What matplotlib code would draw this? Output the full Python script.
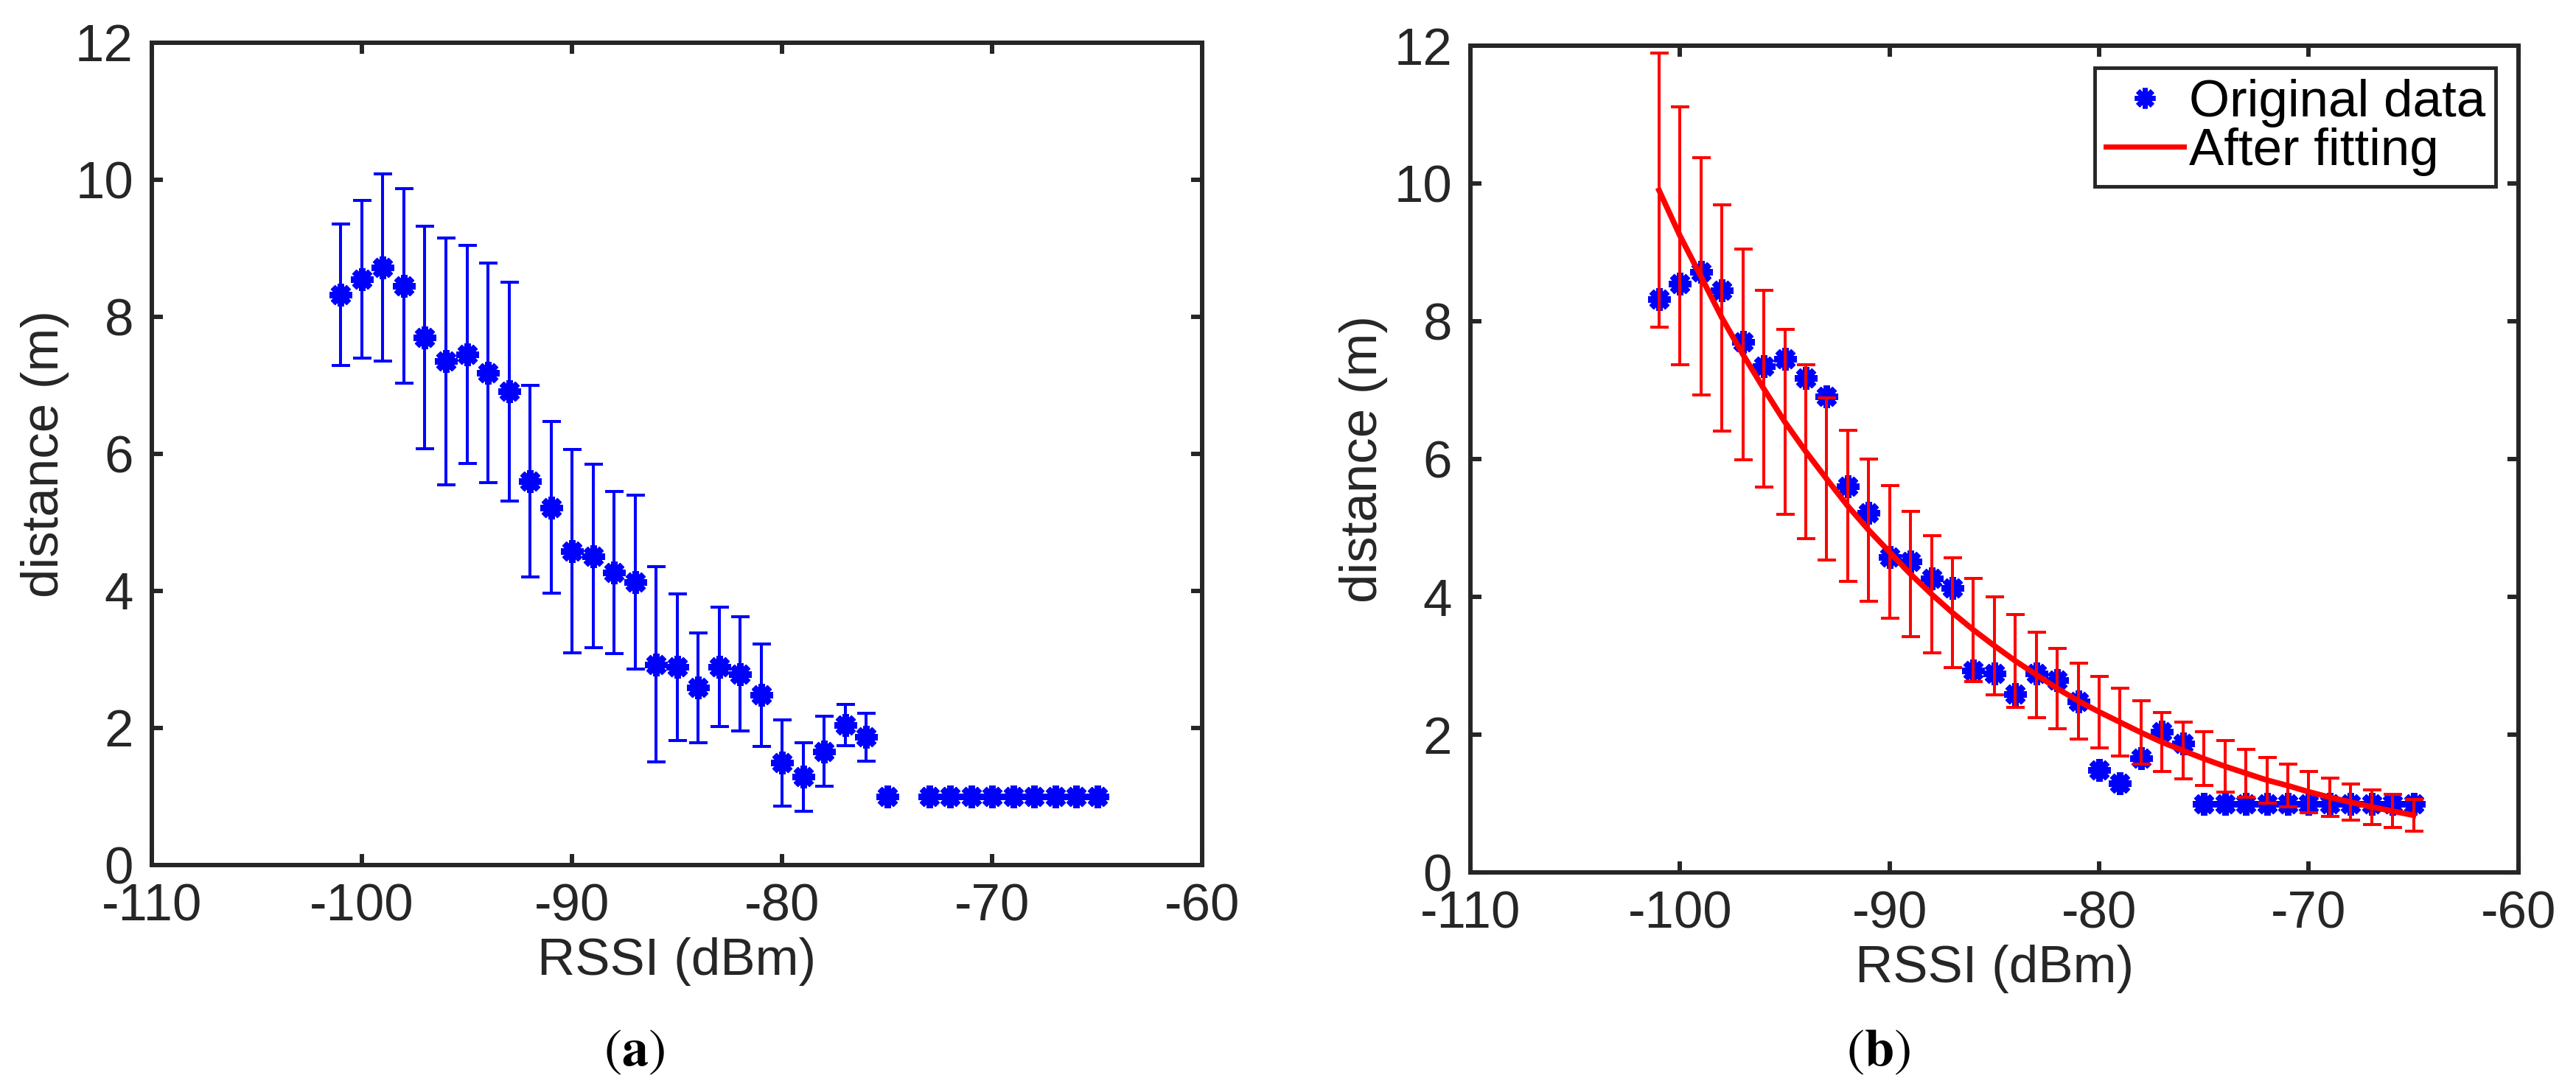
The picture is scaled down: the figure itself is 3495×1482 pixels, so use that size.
import matplotlib
matplotlib.use('Agg')
import matplotlib.pyplot as plt
from matplotlib.lines import Line2D
import numpy as np

# ---------------- data ----------------
xticks = [-110, -100, -90, -80, -70, -60]
yticks = [0, 2, 4, 6, 8, 10, 12]

# (a) measured distance vs RSSI with std error bars
rssi_a = [-101, -100, -99, -98, -97, -96, -95, -94, -93, -92, -91, -90, -89, -88,
          -87, -86, -85, -84, -83, -82, -81, -80, -79, -78, -77, -76, -75,
          -73, -72, -71, -70, -69, -68, -67, -66, -65]
dist_a = [8.32, 8.55, 8.72, 8.45, 7.70, 7.35, 7.45, 7.18, 6.91, 5.60, 5.22, 4.58, 4.51, 4.27,
          4.13, 2.93, 2.89, 2.59, 2.89, 2.79, 2.48, 1.49, 1.29, 1.66, 2.04, 1.87, 1.00,
          1.00, 1.00, 1.00, 1.00, 1.00, 1.00, 1.00, 1.00, 1.00]
err_a = [1.03, 1.15, 1.37, 1.42, 1.62, 1.80, 1.59, 1.60, 1.60, 1.40, 1.25, 1.48, 1.34, 1.18,
         1.27, 1.42, 1.07, 0.80, 0.87, 0.83, 0.75, 0.63, 0.50, 0.51, 0.30, 0.35, 0.00,
         0.00, 0.00, 0.00, 0.00, 0.00, 0.00, 0.00, 0.00, 0.00]

# (b) original data and fitted curve with error bars
rssi_b = [-101, -100, -99, -98, -97, -96, -95, -94, -93, -92, -91, -90, -89, -88,
          -87, -86, -85, -84, -83, -82, -81, -80, -79, -78, -77, -76, -75, -74,
          -73, -72, -71, -70, -69, -68, -67, -66, -65]
dist_b = [8.32, 8.55, 8.72, 8.45, 7.70, 7.35, 7.45, 7.18, 6.91, 5.60, 5.22, 4.58, 4.51, 4.27,
          4.13, 2.93, 2.89, 2.59, 2.89, 2.79, 2.48, 1.49, 1.29, 1.66, 2.04, 1.87, 1.00, 1.00,
          1.00, 1.00, 1.00, 1.00, 1.00, 1.00, 1.00, 1.00, 1.00]
fit_b = [9.90, 9.24, 8.65, 8.05, 7.52, 7.02, 6.54, 6.11, 5.71, 5.32, 4.97, 4.65, 4.33, 4.04,
         3.77, 3.52, 3.29, 3.07, 2.87, 2.67, 2.49, 2.33, 2.18, 2.03, 1.89, 1.77, 1.65, 1.54,
         1.44, 1.34, 1.26, 1.17, 1.09, 1.02, 0.95, 0.89, 0.83]
fit_err_b = [1.99, 1.87, 1.72, 1.64, 1.53, 1.43, 1.34, 1.26, 1.18, 1.10, 1.03, 0.96, 0.91, 0.85,
             0.80, 0.75, 0.71, 0.67, 0.62, 0.58, 0.55, 0.52, 0.49, 0.46, 0.43, 0.41, 0.39, 0.37,
             0.35, 0.33, 0.31, 0.30, 0.28, 0.26, 0.25, 0.24, 0.23]

legend_labels = ['Original data', 'After fitting']
xlabel = 'RSSI (dBm)'
ylabel = 'distance (m)'

# ---------------- style ----------------
plt.rcParams['font.family'] = ['Liberation Sans', 'DejaVu Sans']
plt.rcParams['axes.unicode_minus'] = False
plt.rcParams['mathtext.fontset'] = 'stix'

FS = 51
DARK = '#262626'
BLUE = '#0000ff'
RED = '#ff0000'
STAR = (8, 2, 0)

fig = plt.figure(figsize=(34.95, 14.82), dpi=100)
axA = fig.add_axes([0.05894, 0.20783, 0.40773, 0.75304])
axB = fig.add_axes([0.57082, 0.20108, 0.40678, 0.75708])


def style(ax):
    ax.set_xlim(-110, -60)
    ax.set_ylim(0, 12)
    ax.set_xticks(xticks)
    ax.set_yticks(yticks)
    for s in ax.spines.values():
        s.set_linewidth(4.3)
        s.set_color(DARK)
    ax.tick_params(direction='in', length=11, width=4.3, color=DARK, labelcolor=DARK,
                   labelsize=FS, pad=18, top=True, right=True)
    ax.set_xlabel(xlabel, fontsize=FS, color=DARK, labelpad=5)
    ax.set_ylabel(ylabel, fontsize=FS, color=DARK, labelpad=6)


# (a)
xa = np.array(rssi_a)
ya = np.array(dist_a)
ea = np.array(err_a)
m = ea > 0
axA.errorbar(xa[m], ya[m], yerr=ea[m], fmt='none', ecolor=BLUE, elinewidth=2.9,
             capsize=9, capthick=2.9, zorder=2)
axA.plot(xa, ya, ls='none', marker=STAR, ms=22, mew=6, color=BLUE, zorder=3)
style(axA)

# (b)
axB.plot(rssi_b, dist_b, ls='none', marker=STAR, ms=22, mew=6, color=BLUE, zorder=2)
axB.errorbar(rssi_b, fit_b, yerr=fit_err_b, fmt='none', ecolor=RED, elinewidth=2.9,
             capsize=9, capthick=2.9, zorder=3)
axB.plot(rssi_b, fit_b, color=RED, lw=5.5, zorder=4)
style(axB)

handles = [Line2D([], [], ls='none', marker=STAR, ms=20, mew=5, color=BLUE),
           Line2D([], [], color=RED, lw=5)]
leg = axB.legend(handles, legend_labels, loc='upper right', fontsize=FS, frameon=True,
                 fancybox=False, framealpha=1, edgecolor=DARK, borderpad=0.2,
                 labelspacing=0.0, handlelength=1.5, handletextpad=0.1,
                 borderaxespad=0.43)
leg.get_frame().set_linewidth(3.5)

fig.text(860 / 3495, 1 - 1446 / 1482, r'$(\mathbf{a})$', fontsize=52,
         ha='center', va='baseline')
fig.text(2548 / 3495, 1 - 1446 / 1482, r'$(\mathbf{b})$', fontsize=52,
         ha='center', va='baseline')

fig.savefig('out.png', dpi=100)
